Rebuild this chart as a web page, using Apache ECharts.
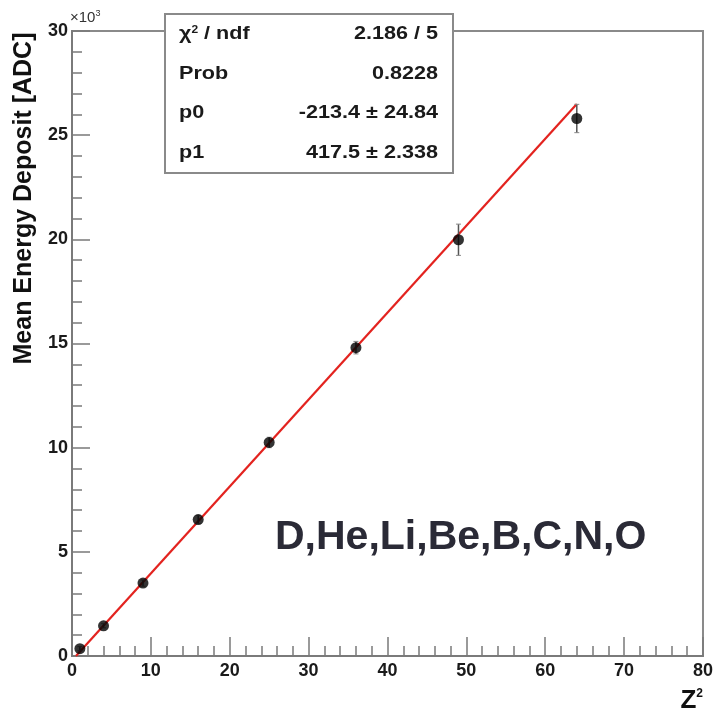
<!DOCTYPE html>
<html>
<head>
<meta charset="utf-8">
<script src="https://cdn.jsdelivr.net/npm/echarts@6/dist/echarts.min.js"></script>
<style>
html,body{margin:0;padding:0;background:#fff;}
#chart{width:716px;height:714px;}
</style>
</head>
<body>
<div id="chart"></div>
<script>
// ---- data (y in units of 10^3 ADC) ----
var zSquared   = [1, 4, 9, 16, 25, 36, 49, 64];
var meanDep    = [0.35, 1.45, 3.5, 6.55, 10.25, 14.8, 19.98, 25.8];
var depErr     = [0.1, 0.1, 0.15, 0.2, 0.25, 0.3, 0.75, 0.68];
var fitX       = [0.5, 64];
var fitY       = [0.0, 26.5];
var statLabels = ['χ{s|2} / ndf', 'Prob', 'p0', 'p1'];
var statValues = ['2.186 / 5', '0.8228', '-213.4 ± 24.84', '417.5 ± 2.338'];
var speciesText = 'D,He,Li,Be,B,C,N,O';
var xTitle = 'Z{s|2}';
var yTitle = 'Mean Energy Deposit [ADC]';

var chart = echarts.init(document.getElementById('chart'), null, {renderer: 'canvas'});

var points = zSquared.map(function (x, i) { return [x, meanDep[i]]; });
var errs = zSquared.map(function (x, i) { return [x, meanDep[i] - depErr[i], meanDep[i] + depErr[i]]; });
var fitLine = fitX.map(function (x, i) { return [x, fitY[i]]; });

var FONT = 'Liberation Sans, Arial, Helvetica, sans-serif';
var AX = '#7a7a7a';

var statChildren = [{
  type: 'rect', shape: {x: 0, y: 0, width: 288, height: 159},
  style: {fill: '#fff', stroke: '#8a8a8a', lineWidth: 2}
}];
statLabels.forEach(function (lab, i) {
  statChildren.push({
    type: 'text', x: 14, y: 20 + i * 39.7, scaleX: 1.2,
    style: {text: lab, fontFamily: FONT, fontSize: 18, fontWeight: 'bold', fill: '#1a1a1a',
      verticalAlign: 'middle', align: 'left',
      rich: {s: {fontSize: 10, fontWeight: 'bold', fill: '#1a1a1a', verticalAlign: 'top', padding: [0, 0, 8, 0]}}}
  });
  statChildren.push({
    type: 'text', x: 273, y: 20 + i * 39.7, scaleX: 1.2,
    style: {text: statValues[i], fontFamily: FONT, fontSize: 18, fontWeight: 'bold', fill: '#1a1a1a',
      verticalAlign: 'middle', align: 'right'}
  });
});

var option = {
  animation: false,
  backgroundColor: '#fff',
  grid: {left: 72, right: 12, top: 31, bottom: 57, show: true, borderColor: '#8a8a8a', borderWidth: 2},
  xAxis: {
    type: 'value', min: 0, max: 80, interval: 10,
    name: xTitle, nameLocation: 'end', nameGap: 0,
    nameTextStyle: {fontFamily: FONT, fontSize: 26, fontWeight: 'bold', color: '#111',
      align: 'right', verticalAlign: 'top', padding: [32, 0, 0, 0],
      rich: {s: {fontSize: 12, fontWeight: 'bold', color: '#111', verticalAlign: 'top', padding: [0, 0, 10, 0]}}},
    axisLine: {show: true, lineStyle: {color: AX, width: 2}},
    axisTick: {show: true, inside: true, length: 19, lineStyle: {color: AX, width: 1.5}},
    minorTick: {show: true, splitNumber: 5, length: 10, lineStyle: {color: AX, width: 1.5}},
    axisLabel: {fontFamily: FONT, fontSize: 18, fontWeight: 'bold', color: '#1a1a1a', margin: 6},
    splitLine: {show: false}
  },
  yAxis: {
    type: 'value', min: 0, max: 30, interval: 5,
    name: yTitle, nameLocation: 'middle', nameGap: 32, nameRotate: 90,
    nameTextStyle: {fontFamily: FONT, fontSize: 25, fontWeight: 'bold', color: '#111', padding: [0, 0, 0, 290]},
    axisLine: {show: true, lineStyle: {color: AX, width: 2}},
    axisTick: {show: true, inside: true, length: 18, lineStyle: {color: AX, width: 1.5}},
    minorTick: {show: true, splitNumber: 5, length: 10, lineStyle: {color: AX, width: 1.5}},
    axisLabel: {fontFamily: FONT, fontSize: 18, fontWeight: 'bold', color: '#1a1a1a', margin: 4},
    splitLine: {show: false}
  },
  series: [
    {
      type: 'line', data: fitLine, showSymbol: false, symbol: 'none',
      lineStyle: {color: '#e3231f', width: 2.2}, z: 2
    },
    {
      type: 'custom', data: errs, z: 3,
      renderItem: function (params, api) {
        var x = api.value(0);
        var a = api.coord([x, api.value(1)]);
        var b = api.coord([x, api.value(2)]);
        return {type: 'group', children: [
          {type: 'line', shape: {x1: a[0], y1: a[1], x2: b[0], y2: b[1]}, style: {stroke: '#555', lineWidth: 1.5}},
          {type: 'line', shape: {x1: a[0] - 2.5, y1: a[1], x2: a[0] + 2.5, y2: a[1]}, style: {stroke: '#888', lineWidth: 1}},
          {type: 'line', shape: {x1: b[0] - 2.5, y1: b[1], x2: b[0] + 2.5, y2: b[1]}, style: {stroke: '#888', lineWidth: 1}}
        ]};
      }
    },
    {
      type: 'scatter', data: points, symbol: 'circle', symbolSize: 11,
      itemStyle: {color: '#000'}, z: 4
    }
  ],
  graphic: [
    {type: 'group', left: 164, top: 13, z: 10, children: statChildren},
    {
      type: 'text', left: 70, top: 9, z: 10,
      style: {text: '×10{s|3}', fontFamily: FONT, fontSize: 15, fill: '#333',
        rich: {s: {fontSize: 9, fill: '#333', verticalAlign: 'top', padding: [0, 0, 8, 0]}}}
    },
    {
      type: 'text', left: 275, top: 517, z: 10,
      style: {text: speciesText, fontFamily: FONT, fontSize: 41, fontWeight: 'bold', fill: '#2a2a36'}
    }
  ]
};
chart.setOption(option);
</script>
</body>
</html>
